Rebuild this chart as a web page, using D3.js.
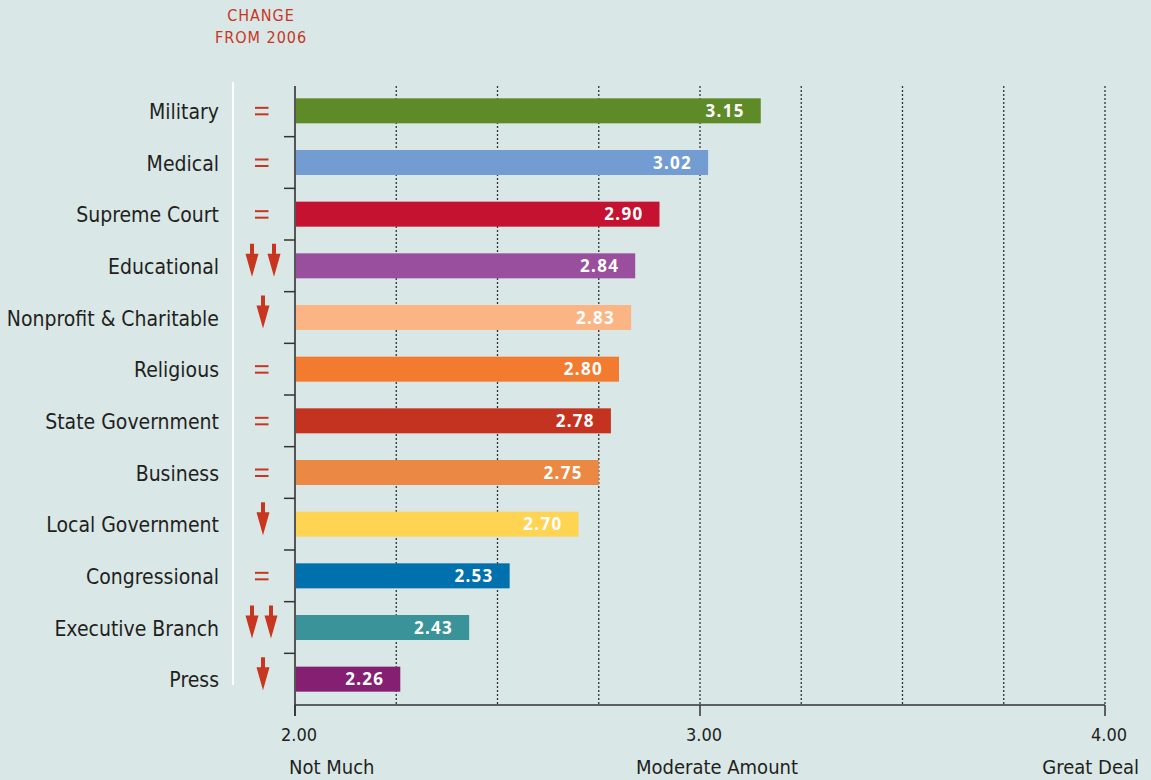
<!DOCTYPE html>
<html>
<head>
<meta charset="utf-8">
<script src="https://cdn.jsdelivr.net/npm/d3@7"></script>
<style>
  html, body { margin: 0; padding: 0; background: #d9e7e7; }
  svg { display: block; }
  .lbl { font-family: "DejaVu Sans Condensed", sans-serif; fill: #231f20; }
</style>
</head>
<body>
<div id="chart"></div>
<script>
// data
var categories = ["Military", "Medical", "Supreme Court", "Educational", "Nonprofit & Charitable",
    "Religious", "State Government", "Business", "Local Government", "Congressional",
    "Executive Branch", "Press"];
var values = [3.15, 3.02, 2.90, 2.84, 2.83, 2.80, 2.78, 2.75, 2.70, 2.53, 2.43, 2.26];
// 0 = unchanged, -1 = one arrow down, -2 = two arrows down
var changes = [0, 0, 0, -2, -1, 0, 0, 0, -1, 0, -2, -1];
var colors = ["#5e8a27", "#739dd2", "#c41230", "#9a4e9e", "#fbb585", "#f27b30",
    "#c4331f", "#eb8843", "#ffd452", "#0071ad", "#3a9399", "#841f72"];
var tickValues = [2, 3, 4];
var gridValues = [2.25, 2.5, 2.75, 3, 3.25, 3.5, 3.75, 4];
var scaleLabels = ["Not Much", "Moderate Amount", "Great Deal"];

var width = 1151, height = 780;
var red = "#c8361f";

var svg = d3.select("#chart").append("svg")
    .attr("width", width)
    .attr("height", height);

var x = d3.scaleLinear().domain([2, 4]).range([295, 1105]);
var y = d3.scaleBand().domain(categories).range([85, 705]);
var barH = 25;
var axisY = 705;

// dotted grid
svg.append("g").selectAll("line")
    .data(gridValues)
    .enter().append("line")
    .attr("x1", function (d) { return x(d); })
    .attr("x2", function (d) { return x(d); })
    .attr("y1", 86)
    .attr("y2", axisY)
    .attr("stroke", "#333")
    .attr("stroke-width", 1.3)
    .attr("stroke-dasharray", "2,2");

// bars
svg.append("g").selectAll("rect")
    .data(values)
    .enter().append("rect")
    .attr("x", x(2))
    .attr("y", function (d, i) { return y(categories[i]) + y.bandwidth() / 2 - barH / 2; })
    .attr("width", function (d) { return x(d) - x(2); })
    .attr("height", barH)
    .attr("fill", function (d, i) { return colors[i]; });

// value labels
svg.append("g").selectAll("text")
    .data(values)
    .enter().append("text")
    .attr("x", function (d) { return x(d) - 16; })
    .attr("y", function (d, i) { return y(categories[i]) + y.bandwidth() / 2 + 6; })
    .attr("text-anchor", "end")
    .style("font-family", "'Noto Sans', sans-serif")
    .style("font-weight", "bold")
    .style("font-size", "17px")
    .style("letter-spacing", "1.3px")
    .style("fill", "#fff")
    .text(function (d) { return d.toFixed(2); });

// y axis
svg.append("line")
    .attr("x1", x(2)).attr("x2", x(2))
    .attr("y1", 86).attr("y2", 716)
    .attr("stroke", "#555").attr("stroke-width", 2);
svg.append("g").selectAll("line")
    .data(categories.slice(1))
    .enter().append("line")
    .attr("x1", x(2) - 11).attr("x2", x(2))
    .attr("y1", function (d) { return y(d); })
    .attr("y2", function (d) { return y(d); })
    .attr("stroke", "#333").attr("stroke-width", 1.5);

// x axis
svg.append("line")
    .attr("x1", x(2)).attr("x2", x(4))
    .attr("y1", axisY).attr("y2", axisY)
    .attr("stroke", "#333").attr("stroke-width", 1.5);
svg.append("g").selectAll("line")
    .data(tickValues)
    .enter().append("line")
    .attr("x1", function (d) { return x(d); })
    .attr("x2", function (d) { return x(d); })
    .attr("y1", axisY).attr("y2", 716)
    .attr("stroke", "#333").attr("stroke-width", 1.5);
svg.append("g").selectAll("text")
    .data(tickValues)
    .enter().append("text")
    .attr("class", "lbl")
    .attr("x", function (d) { return x(d) + 4; })
    .attr("y", 741)
    .attr("text-anchor", "middle")
    .style("font-size", "18px")
    .text(function (d) { return d.toFixed(2); });
svg.append("g").selectAll("text")
    .data(scaleLabels)
    .enter().append("text")
    .attr("class", "lbl")
    .attr("x", function (d, i) { return [x(2) - 6, x(3) + 17, x(4) + 34][i]; })
    .attr("y", 774)
    .attr("text-anchor", function (d, i) { return ["start", "middle", "end"][i]; })
    .style("font-size", "20px")
    .text(function (d) { return d; });

// category labels
svg.append("g").selectAll("text")
    .data(categories)
    .enter().append("text")
    .attr("class", "lbl")
    .attr("x", 219)
    .attr("y", function (d) { return y(d) + y.bandwidth() / 2 + 8; })
    .attr("text-anchor", "end")
    .style("font-size", "21px")
    .text(function (d) { return d; });

// white divider
svg.append("line")
    .attr("x1", 233).attr("x2", 233)
    .attr("y1", 82).attr("y2", 685)
    .attr("stroke", "#fff").attr("stroke-width", 2);

// change header
svg.append("text")
    .attr("class", "lbl")
    .attr("x", 261).attr("y", 21)
    .attr("text-anchor", "middle")
    .style("font-size", "16px").style("fill", red).style("letter-spacing", "1px")
    .text("CHANGE");
svg.append("text")
    .attr("class", "lbl")
    .attr("x", 261).attr("y", 43)
    .attr("text-anchor", "middle")
    .style("font-size", "16px").style("fill", red).style("letter-spacing", "1px")
    .text("FROM 2006");

// change markers
var marks = svg.append("g").selectAll("g")
    .data(changes)
    .enter().append("g")
    .attr("transform", function (d, i) { return "translate(0," + (y(categories[i]) + y.bandwidth() / 2) + ")"; });

marks.filter(function (d) { return d === 0; })
    .selectAll("rect")
    .data([-4, 2.5])
    .enter().append("rect")
    .attr("x", 255).attr("y", function (d) { return d; })
    .attr("width", 13.5).attr("height", 2)
    .attr("fill", red);

function arrowPath(cx) {
    return "M" + (cx - 2) + ",-22 L" + (cx + 2) + ",-22 L" + (cx + 2) + ",-12 L" + (cx + 6.5) + ",-12 L" + cx + ",11 L" + (cx - 6.5) + ",-12 L" + (cx - 2) + ",-12 Z";
}

marks.filter(function (d) { return d !== 0; })
    .selectAll("path")
    .data(function (d, i) {
        if (d === -1) return [263];
        return i === 3 ? [252, 271] : [252, 274];
    })
    .enter().append("path")
    .attr("d", function (d) { return arrowPath(d); })
    .attr("fill", red);
</script>
</body>
</html>
